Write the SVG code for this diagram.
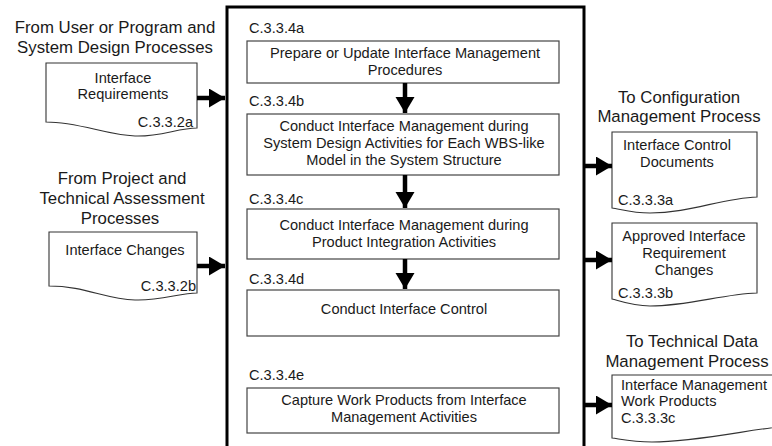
<svg xmlns="http://www.w3.org/2000/svg" width="772" height="446" viewBox="0 0 772 446">
<style>
text{font-family:"Liberation Sans",Arial,sans-serif;fill:#1a1a1a}
.h{font-size:16.8px;text-anchor:middle}
.t{font-size:14.6px;text-anchor:middle}
.l{font-size:14.6px}
.box{fill:#fff;stroke:#444;stroke-width:1.2}
.doc{fill:#fff;stroke:#333;stroke-width:1.1}
.main{fill:none;stroke:#000;stroke-width:3}
.arr{stroke:#000;stroke-width:4.5;fill:none;marker-end:url(#ah)}
</style>
<defs>
<marker id="ah" markerUnits="userSpaceOnUse" markerWidth="18" markerHeight="20" refX="16" refY="9.5" orient="auto"><path d="M0,0 L16,9.5 L0,19 Z" fill="#000"/></marker>
</defs>
<rect width="772" height="446" fill="#fff"/>
<g id="main-process">
<path class="main" d="M227,450 V7 H584 V450"/>
</g>
<g id="in-headings">
<text class="h" x="115" y="33">From User or Program and</text>
<text class="h" x="115" y="53">System Design Processes</text>
<text class="h" x="122" y="184">From Project and</text>
<text class="h" x="122" y="204">Technical Assessment</text>
<text class="h" x="120" y="224">Processes</text>
</g>
<g id="out-headings">
<text class="h" x="679" y="103">To Configuration</text>
<text class="h" x="679" y="122">Management Process</text>
<text class="h" x="692" y="347">To Technical Data</text>
<text class="h" x="687" y="367">Management Process</text>
</g>
<g id="doc-c332a">
<path class="doc" d="M46,63 H197 V128 C178,128 160,137 135,136 C105,135 80,122 46,122 Z"/>
<text class="t" x="123" y="83">Interface</text>
<text class="t" x="123" y="99">Requirements</text>
<text class="l" x="193" y="127" text-anchor="end">C.3.3.2a</text>
</g>
<g id="doc-c332b">
<path class="doc" d="M49,232 H197 V293 C180,293 160,301 135,300 C105,299 85,286 49,286 Z"/>
<text class="t" x="125" y="255">Interface Changes</text>
<text class="l" x="196" y="291" text-anchor="end">C.3.3.2b</text>
</g>
<g id="step-c334a">
<text class="l" x="249" y="33">C.3.3.4a</text>
<rect class="box" x="247" y="41" width="312" height="42"/>
<text class="t" x="405" y="58">Prepare or Update Interface Management</text>
<text class="t" x="405" y="75">Procedures</text>
</g>
<g id="step-c334b">
<text class="l" x="249" y="106">C.3.3.4b</text>
<rect class="box" x="247" y="114" width="312" height="61"/>
<text class="t" x="404" y="131">Conduct Interface Management during</text>
<text class="t" x="404" y="148">System Design Activities for Each WBS-like</text>
<text class="t" x="404" y="165">Model in the System Structure</text>
</g>
<g id="step-c334c">
<text class="l" x="249" y="204">C.3.3.4c</text>
<rect class="box" x="247" y="209" width="312" height="50"/>
<text class="t" x="404" y="230">Conduct Interface Management during</text>
<text class="t" x="404" y="247">Product Integration Activities</text>
</g>
<g id="step-c334d">
<text class="l" x="249" y="284">C.3.3.4d</text>
<rect class="box" x="247" y="290" width="312" height="46"/>
<text class="t" x="404" y="314">Conduct Interface Control</text>
</g>
<g id="step-c334e">
<text class="l" x="249" y="380">C.3.3.4e</text>
<rect class="box" x="247" y="388" width="312" height="45"/>
<text class="t" x="404" y="405">Capture Work Products from Interface</text>
<text class="t" x="404" y="422">Management Activities</text>
</g>
<g id="doc-c333a">
<path class="doc" d="M612,132 H757 V197 C722,198 690,213 650,213 C632,213 620,209 612,208 Z"/>
<text class="t" x="677" y="150">Interface Control</text>
<text class="t" x="677" y="167">Documents</text>
<text class="l" x="618" y="205">C.3.3.3a</text>
</g>
<g id="doc-c333b">
<path class="doc" d="M612,223 H757 V293 C722,294 690,306 650,306 C632,306 620,301 612,299 Z"/>
<text class="t" x="684" y="241">Approved Interface</text>
<text class="t" x="684" y="258">Requirement</text>
<text class="t" x="684" y="275">Changes</text>
<text class="l" x="618" y="298">C.3.3.3b</text>
</g>
<g id="doc-c333c">
<path class="doc" d="M612,375 H790 V426 C760,427 700,442 652,442 C632,442 620,439 612,438 Z"/>
<text class="l" x="621" y="390">Interface Management</text>
<text class="l" x="621" y="406">Work Products</text>
<text class="l" x="621" y="423">C.3.3.3c</text>
</g>
<g id="connectors">
<line class="arr" x1="197" y1="98" x2="225" y2="98"/>
<line class="arr" x1="197" y1="266" x2="225" y2="266"/>
<line class="arr" x1="405" y1="83" x2="405" y2="113"/>
<line class="arr" x1="405" y1="175" x2="405" y2="208"/>
<line class="arr" x1="405" y1="259" x2="405" y2="289"/>
<line class="arr" x1="585" y1="166" x2="612" y2="166"/>
<line class="arr" x1="585" y1="260" x2="612" y2="260"/>
<line class="arr" x1="585" y1="405" x2="612" y2="405"/>
</g>
</svg>
